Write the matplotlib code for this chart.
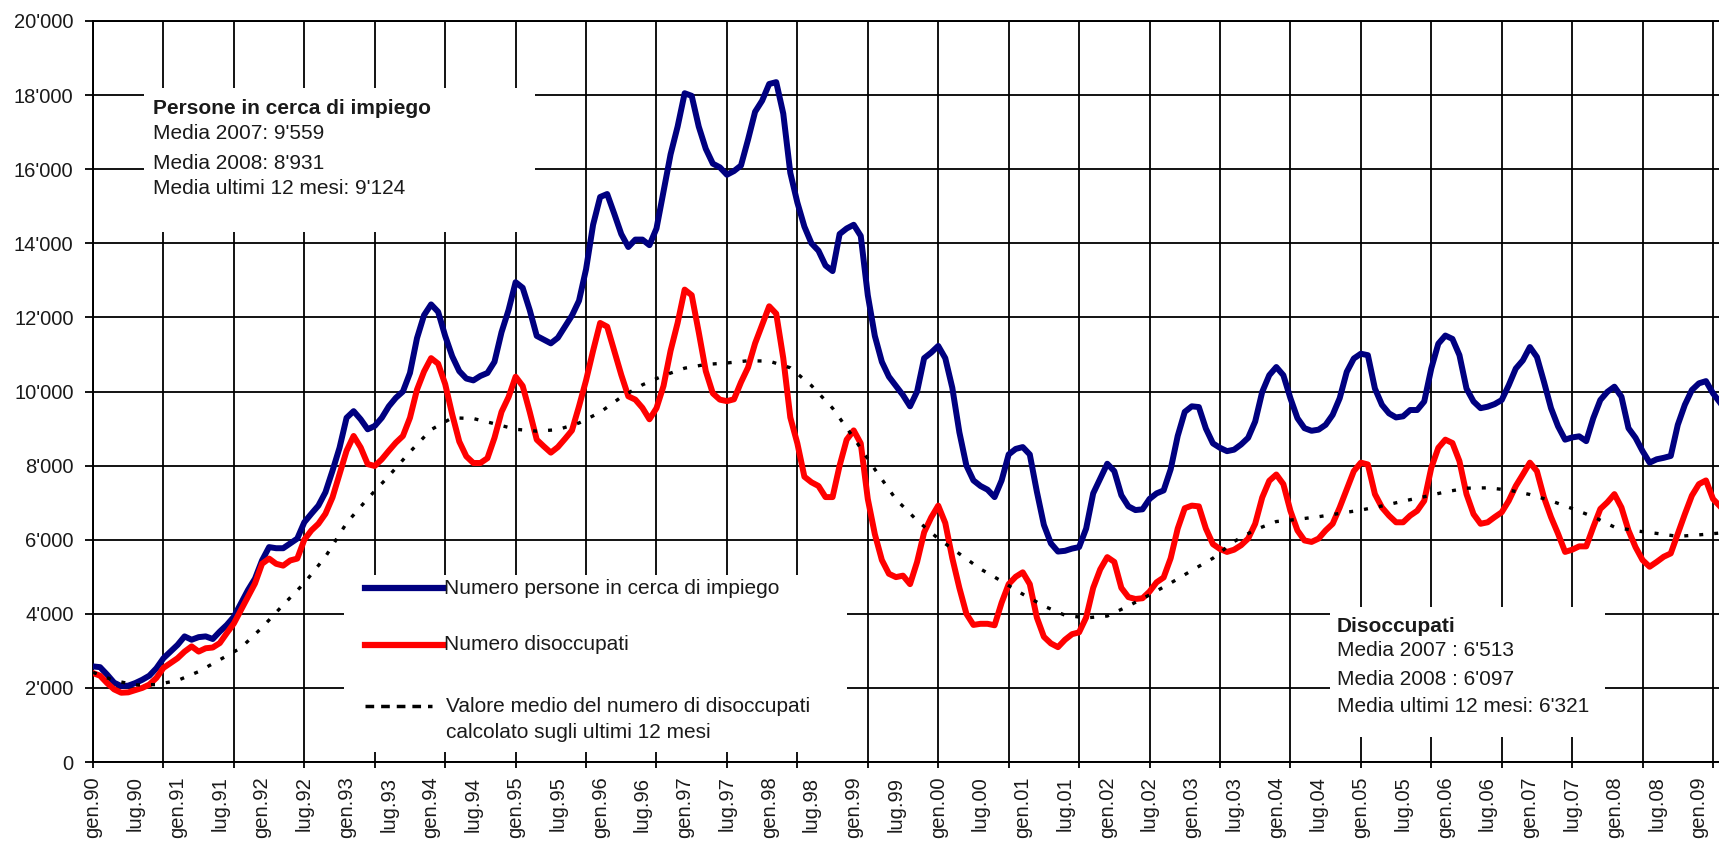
import numpy as np
import matplotlib
matplotlib.use("Agg")
import matplotlib.pyplot as plt
from matplotlib.patches import Rectangle
from matplotlib.ticker import FixedLocator, NullFormatter

plt.rcParams['font.family'] = ['Liberation Sans', 'DejaVu Sans']

# valori mensili da gen.90 (indice 0) a apr.09
persone = [
    2580, 2560, 2360, 2140, 2050, 2060, 2130, 2220, 2330, 2530,
    2800, 2980, 3160, 3390, 3300, 3370, 3390, 3320, 3520, 3700,
    3920, 4280, 4640, 4950, 5440, 5800, 5770, 5770, 5900, 6030,
    6470, 6700, 6920, 7280, 7860, 8480, 9290, 9470, 9250, 8980,
    9070, 9290, 9600, 9830, 10000, 10500, 11440, 12060, 12350, 12150,
    11500, 10950, 10550, 10350, 10300, 10420, 10500, 10800, 11600, 12200,
    12950, 12800, 12200, 11500, 11400, 11300, 11450, 11750, 12050, 12450,
    13300, 14500, 15250, 15330, 14800, 14250, 13900, 14100, 14100, 13950,
    14400, 15400, 16400, 17150, 18050, 17980, 17150, 16550, 16150, 16050,
    15850, 15950, 16100, 16800, 17550, 17850, 18300, 18350, 17500, 15900,
    15100, 14450, 14000, 13800, 13400, 13250, 14250, 14400, 14500, 14200,
    12600, 11500, 10800, 10400, 10150, 9900, 9600, 10000, 10900, 11050,
    11230, 10900, 10100, 8900, 8000, 7600, 7450, 7350, 7150, 7600,
    8300, 8450, 8500, 8300, 7300, 6400, 5900, 5680, 5700, 5760,
    5800, 6300, 7250, 7650, 8050, 7850, 7200, 6900, 6800, 6820,
    7100, 7250, 7330, 7900, 8800, 9450, 9600, 9580, 9000, 8600,
    8480, 8390, 8430, 8570, 8750, 9190, 9990, 10440, 10660, 10440,
    9820, 9280, 9010, 8940, 8970, 9100, 9370, 9820, 10530, 10890,
    11020, 10980, 10080, 9640, 9410, 9300, 9330, 9500, 9500, 9730,
    10620, 11290, 11510, 11420, 10980, 10080, 9730, 9550, 9590, 9660,
    9770, 10170, 10620, 10840, 11200, 10930, 10260, 9550, 9060, 8700,
    8760, 8790, 8660, 9280, 9770, 9990, 10130, 9860, 9010, 8750,
    8390, 8080, 8170, 8210, 8260, 9100, 9640, 10040, 10220, 10280,
    9950, 9700,
]

disoccupati = [
    2400, 2330, 2130, 1960, 1870, 1880, 1940, 2000, 2090, 2270,
    2540, 2670, 2800, 2980, 3120, 2980, 3070, 3090, 3210, 3480,
    3740, 4100, 4460, 4820, 5350, 5490, 5350, 5300, 5440, 5490,
    6000, 6250, 6430, 6700, 7140, 7770, 8400, 8800, 8490, 8040,
    7990, 8170, 8400, 8620, 8800, 9290, 10050, 10540, 10900, 10750,
    10200, 9380, 8650, 8250, 8070, 8070, 8200, 8750, 9450, 9850,
    10400, 10150, 9450, 8700, 8520, 8350, 8500, 8720, 8950, 9600,
    10300, 11100, 11850, 11750, 11100, 10450, 9870, 9780, 9560, 9250,
    9550, 10150, 11100, 11850, 12750, 12600, 11600, 10550, 9950, 9780,
    9740, 9790, 10250, 10650, 11300, 11800, 12300, 12100, 10900, 9300,
    8600, 7700, 7550, 7450, 7150, 7150, 8000, 8700, 8950, 8600,
    7100, 6150, 5450, 5080, 4990, 5030, 4800, 5400, 6200, 6600,
    6920, 6450, 5500, 4700, 4000, 3700, 3730, 3730, 3690, 4300,
    4800, 5000, 5120, 4800, 3900, 3380, 3200, 3100, 3300, 3450,
    3500, 3900, 4700, 5200, 5530, 5400, 4700, 4450, 4400, 4420,
    4600, 4850, 4980, 5500, 6300, 6850, 6920, 6900, 6300, 5880,
    5750, 5670, 5730, 5850, 6030, 6430, 7140, 7590, 7760, 7500,
    6780, 6250, 5980, 5940, 6030, 6250, 6430, 6870, 7360, 7850,
    8080, 8030, 7230, 6870, 6650, 6470, 6470, 6650, 6780, 7050,
    7940, 8480, 8700, 8610, 8120, 7230, 6690, 6430, 6470, 6610,
    6740, 7050, 7450, 7760, 8080, 7850, 7140, 6610, 6160, 5670,
    5730, 5820, 5820, 6340, 6830, 7010, 7230, 6870, 6250, 5800,
    5450, 5270, 5400, 5540, 5630, 6160, 6690, 7190, 7500, 7600,
    7100, 6900,
]

# media mobile 12 mesi, letta ogni 3 mesi
media_12 = [
    2420, 2200, 2080, 2090, 2200, 2440, 2760, 3080, 3630, 4240,
    4830, 5540, 6450, 7110, 7720, 8370, 8970, 9290, 9270, 9130,
    8980, 8930, 8970, 9150, 9440, 9850, 10180, 10430, 10630, 10730,
    10770, 10830, 10820, 10640, 10160, 9550, 8750, 7900, 7090, 6520,
    6030, 5620, 5210, 4880, 4530, 4210, 3960, 3890, 3940, 4210,
    4510, 4830, 5170, 5500, 5950, 6270, 6490, 6550, 6620, 6710,
    6800, 6910, 7040, 7160, 7290, 7390, 7400, 7340, 7220, 7050,
    6840, 6620, 6340, 6240, 6170, 6090, 6130, 6180,
]

etichette_x = [("gen." if i % 2 == 0 else "lug.") + "%02d" % ((90 + i // 2) % 100)
               for i in range(39)]
valori_y = list(range(0, 20001, 2000))

mesi = np.arange(len(persone))
mesi_media = np.arange(0, len(persone), 3)

W, H = 1719, 844
fig = plt.figure(figsize=(W / 100, H / 100), dpi=100)
ax = fig.add_axes([93 / W, 1 - 762 / H, 1 - 93 / W, (762 - 21) / H])

ax.plot(mesi, persone, color='#000080', lw=4.3, zorder=3)
ax.plot(mesi, disoccupati, color='#ff0000', lw=4.3, zorder=4)
ax.plot(mesi_media, media_12, color='black', lw=2.4, ls=(0, (1.2, 3.3)), zorder=5)

ax.set_xlim(0, 230.85)
ax.set_ylim(0, 20000)

# griglia verticale ogni 10 mesi, etichette ogni 6
ax.xaxis.remove_overlapping_locs = False
ax.xaxis.set_major_locator(FixedLocator(range(0, 231, 10)))
ax.xaxis.set_major_formatter(NullFormatter())
ax.set_xticks(range(0, 229, 6), minor=True)
ax.set_xticklabels(etichette_x, minor=True, rotation=90, fontsize=14.5, color='#1a1a1a')
ax.tick_params(axis='x', which='major', length=4, width=1.3, direction='out')
ax.tick_params(axis='x', which='minor', length=0, pad=10.5)

ax.set_yticks(valori_y)
ax.set_yticklabels([f"{v:,}".replace(",", "'") for v in valori_y], fontsize=14.5, color='#1a1a1a')
ax.tick_params(axis='y', length=6, width=1.3, pad=8)

ax.grid(True, which='major', color='black', lw=1.3)
ax.set_axisbelow(True)
for s in ['left', 'bottom', 'top']:
    ax.spines[s].set_linewidth(1.4)
ax.spines['right'].set_visible(False)

tc = '#1a1a1a'
fs = 15

# riquadro persone in cerca di impiego
ax.add_patch(Rectangle((7.2, 14300), 55.5, 3890, fc='white', ec='none', zorder=1))
ax.text(8.5, 17625, "Persone in cerca di impiego", fontsize=fs, fontweight='bold',
        va='center', color=tc, zorder=6)
ax.text(8.5, 16977, "Media 2007: 9'559", fontsize=fs, va='center', color=tc, zorder=6)
ax.text(8.5, 16167, "Media 2008: 8'931", fontsize=fs, va='center', color=tc, zorder=6)
ax.text(8.5, 15492, "Media ultimi 12 mesi: 9'124", fontsize=fs, va='center', color=tc, zorder=6)

# legenda
ax.add_patch(Rectangle((35.65, 270), 71.45, 4777, fc='white', ec='none', zorder=1))
ax.plot([38.6, 49.9], [4696, 4696], color='#000080', lw=4.5, zorder=6)
ax.text(49.9, 4696, "Numero persone in cerca di impiego", fontsize=fs, va='center',
        color=tc, zorder=6)
ax.plot([38.6, 49.9], [3158, 3158], color='#ff0000', lw=4.5, zorder=6)
ax.text(49.9, 3158, "Numero disoccupati", fontsize=fs, va='center', color=tc, zorder=6)
ax.plot([38.6, 48.2], [1511, 1511], color='black', lw=2.5, ls=(0, (2.5, 2)), zorder=6)
ax.text(50.1, 1511, "Valore medio del numero di disoccupati", fontsize=fs, va='center',
        color=tc, zorder=6)
ax.text(50.1, 783, "calcolato sugli ultimi 12 mesi", fontsize=fs, va='center',
        color=tc, zorder=6)

# riquadro disoccupati
ax.add_patch(Rectangle((175.6, 675), 39, 3509, fc='white', ec='none', zorder=1))
ax.text(176.6, 3670, "Disoccupati", fontsize=fs, fontweight='bold', va='center',
        color=tc, zorder=6)
ax.text(176.6, 3000, "Media 2007 : 6'513", fontsize=fs, va='center', color=tc, zorder=6)
ax.text(176.6, 2240, "Media 2008 : 6'097", fontsize=fs, va='center', color=tc, zorder=6)
ax.text(176.6, 1511, "Media ultimi 12 mesi: 6'321", fontsize=fs, va='center', color=tc, zorder=6)

fig.savefig('out.png', dpi=100)
